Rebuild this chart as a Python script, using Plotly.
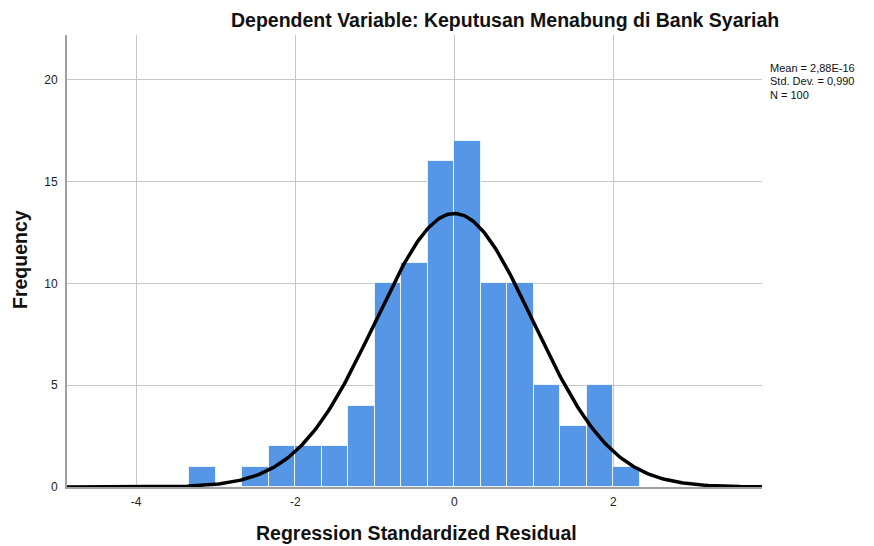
import numpy as np
import plotly.graph_objects as go

# Histogram data (bin width 1/3)
bin_width = 1 / 3
bin_centers = [-19/6, -17/6, -15/6, -13/6, -11/6, -9/6, -7/6, -5/6, -3/6, -1/6,
               1/6, 3/6, 5/6, 7/6, 9/6, 11/6, 13/6]
counts = [1, 0, 1, 2, 2, 2, 4, 10, 11, 16, 17, 10, 10, 5, 3, 5, 1]

mean_val = 2.88e-16
std_val = 0.990
n_val = 100
stats_lines = ["Mean = 2,88E-16", "Std. Dev. = 0,990", "N = 100"]

x_ticks = [-4, -2, 0, 2]
y_ticks = [0, 5, 10, 15, 20]

x_range = [-4.87, 3.87]
y_range = [0, 22.2]

# Fitted normal curve from the reported statistics
xc = np.linspace(x_range[0], x_range[1], 400)
yc = n_val * bin_width / (std_val * np.sqrt(2 * np.pi)) * np.exp(-0.5 * ((xc - mean_val) / std_val) ** 2)

fig = go.Figure()
fig.add_trace(go.Bar(
    x=bin_centers, y=counts, width=bin_width,
    marker=dict(color="#5596E6", line=dict(color="#EAF2FC", width=1)),
    showlegend=False, hoverinfo="x+y",
))
fig.add_trace(go.Scatter(
    x=xc, y=yc, mode="lines",
    line=dict(color="black", width=3.5),
    showlegend=False, hoverinfo="skip",
))

font_family = "Liberation Sans, Arial, sans-serif"

L, R, T, B = 67, 762, 35, 487
def px(xp):
    return (xp - L) / (R - L)
def py(yp):
    return (B - yp) / (B - T)

annotations = [
    dict(text="<b>Dependent Variable: Keputusan Menabung di Bank Syariah</b>",
         xref="paper", yref="paper", x=px(505), y=py(20),
         xanchor="center", yanchor="middle", showarrow=False,
         font=dict(size=19.5, color="#111")),
    dict(text="<b>Regression Standardized Residual</b>",
         xref="paper", yref="paper", x=px(416), y=py(533),
         xanchor="center", yanchor="middle", showarrow=False,
         font=dict(size=19.5, color="#111")),
    dict(text="<b>Frequency</b>", textangle=-90,
         xref="paper", yref="paper", x=px(20), y=py(260),
         xanchor="center", yanchor="middle", showarrow=False,
         font=dict(size=19.5, color="#111")),
]
for i, line in enumerate(stats_lines):
    annotations.append(dict(
        text=line, xref="paper", yref="paper", x=px(768), y=py(68 + 13.5 * i),
        xanchor="left", yanchor="middle", align="left", showarrow=False,
        font=dict(size=11, color="#111")))

fig.update_layout(
    width=874, height=546,
    margin=dict(l=L, r=874 - R, t=T, b=546 - B),
    paper_bgcolor="white", plot_bgcolor="white",
    font=dict(family=font_family, size=12, color="#222"),
    bargap=0,
    xaxis=dict(
        range=x_range, tickvals=x_ticks, ticktext=[str(v) for v in x_ticks],
        showgrid=True, gridcolor="#C8C8C8", gridwidth=1,
        showline=True, linecolor="#A0A0A0", linewidth=2,
        zeroline=False, ticks="", ticklen=0, ticklabelstandoff=3,
        tickfont=dict(size=12, color="#222"), automargin=False,
    ),
    yaxis=dict(
        range=y_range, tickvals=y_ticks, ticktext=[str(v) for v in y_ticks],
        showgrid=True, gridcolor="#C8C8C8", gridwidth=1,
        showline=True, linecolor="#A0A0A0", linewidth=2,
        zeroline=False, ticks="", ticklen=0, ticklabelstandoff=5,
        tickfont=dict(size=12, color="#222"), automargin=False,
    ),
    annotations=annotations,
)

fig.write_html("out.html", config={"displayModeBar": False},
               post_script="document.body.style.margin='0px';")
